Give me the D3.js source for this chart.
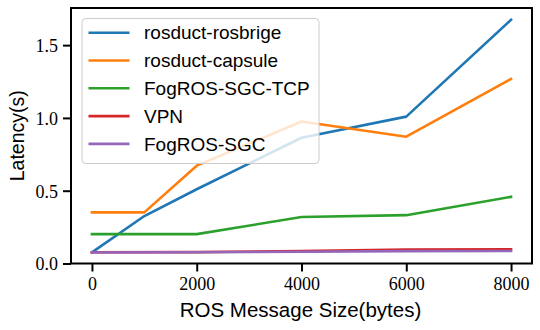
<!DOCTYPE html>
<html><head><meta charset="utf-8">
<script src="https://cdn.jsdelivr.net/npm/d3@7"></script>
<style>body{margin:0;background:#fff}svg{display:block}</style>
</head><body><svg id="c" width="540" height="330"></svg>
<script>
const seriesNames = ["rosduct-rosbrige","rosduct-capsule","FogROS-SGC-TCP","VPN","FogROS-SGC"];
const colors = ["#1f77b4","#ff7f0e","#2ca02c","#d62728","#9467bd"];
const xRosbridge = [0,1000,2000,4000,6000,8000];
const yRosbridge = [0.076,0.326,0.51,0.864,1.009,1.674];
const xCapsule = [0,1000,2000,4000,6000,8000];
const yCapsule = [0.351,0.351,0.672,0.975,0.871,1.268];
const xTcp = [0,2000,4000,6000,8000];
const yTcp = [0.202,0.202,0.319,0.332,0.458];
const xVpn = [0,2000,4000,6000,8000];
const yVpn = [0.077,0.078,0.085,0.095,0.098];
const xSgc = [0,2000,4000,6000,8000];
const ySgc = [0.076,0.077,0.081,0.085,0.086];
const xTicks = [0,2000,4000,6000,8000];
const yTicks = [0,0.5,1.0,1.5];

const series = [
  {name:seriesNames[0], xs:xRosbridge, ys:yRosbridge, color:colors[0]},
  {name:seriesNames[1], xs:xCapsule, ys:yCapsule, color:colors[1]},
  {name:seriesNames[2], xs:xTcp, ys:yTcp, color:colors[2]},
  {name:seriesNames[3], xs:xVpn, ys:yVpn, color:colors[3]},
  {name:seriesNames[4], xs:xSgc, ys:ySgc, color:colors[4]}
];

const svg = d3.select("#c");
const L=71, R=532, T=8, B=263.5;
const x = d3.scaleLinear().domain([-400,8400]).range([L,R]);
const y = d3.scaleLinear().domain([0,1.755]).range([B,T]);

const line = d3.line().x(d=>x(d[0])).y(d=>y(d[1]));
series.forEach(s=>{
  svg.append("path").datum(s.xs.map((v,i)=>[v,s.ys[i]]))
    .attr("d",line).attr("fill","none").attr("stroke",s.color)
    .attr("stroke-width",2.6).attr("stroke-linejoin","round").attr("stroke-linecap","square");
});

// frame
svg.append("rect").attr("x",L).attr("y",T).attr("width",R-L).attr("height",B-T)
  .attr("fill","none").attr("stroke","#000").attr("stroke-width",2);

const tickFont = "'Liberation Serif','DejaVu Serif',serif";
const xAxis = svg.append("g").attr("transform",`translate(0,${B})`)
  .call(d3.axisBottom(x).tickValues(xTicks).tickFormat(d3.format("d")).tickSize(8).tickPadding(5));
const yAxis = svg.append("g").attr("transform",`translate(${L},0)`)
  .call(d3.axisLeft(y).tickValues(yTicks).tickFormat(d3.format(".1f")).tickSize(8).tickPadding(5));
[xAxis,yAxis].forEach(g=>{
  g.select(".domain").remove();
  g.selectAll(".tick line").attr("stroke","#000").attr("stroke-width",2);
  g.selectAll(".tick text").attr("fill","#000").style("font-family",tickFont).style("font-size","18px");
});
xAxis.selectAll(".tick text").attr("dy","0.75em");
yAxis.selectAll(".tick text").attr("dy","0.35em");

const labFont = "'Liberation Sans',Arial,sans-serif";
svg.append("text").attr("x",(L+R)/2 - 1).attr("y",317).attr("text-anchor","middle")
  .style("font-family",labFont).style("font-size","20.5px").text("ROS Message Size(bytes)");
svg.append("text").attr("transform",`translate(24,${(T+B)/2}) rotate(-90)`).attr("text-anchor","middle")
  .style("font-family",labFont).style("font-size","19.5px").text("Latency(s)");

// legend
const lg = svg.append("g");
lg.append("rect").attr("x",82).attr("y",18.5).attr("width",237).attr("height",145).attr("rx",4)
  .attr("fill","#fff").attr("fill-opacity",0.8).attr("stroke","#cccccc").attr("stroke-width",1);
series.forEach((s,i)=>{
  const cy = 32.7 + i*27.8;
  lg.append("line").attr("x1",88.5).attr("x2",129.5).attr("y1",cy).attr("y2",cy)
    .attr("stroke",s.color).attr("stroke-width",2.6);
  lg.append("text").attr("x",144).attr("y",cy).attr("dy","0.35em")
    .style("font-family",labFont).style("font-size","19px").text(s.name);
});
</script></body></html>
